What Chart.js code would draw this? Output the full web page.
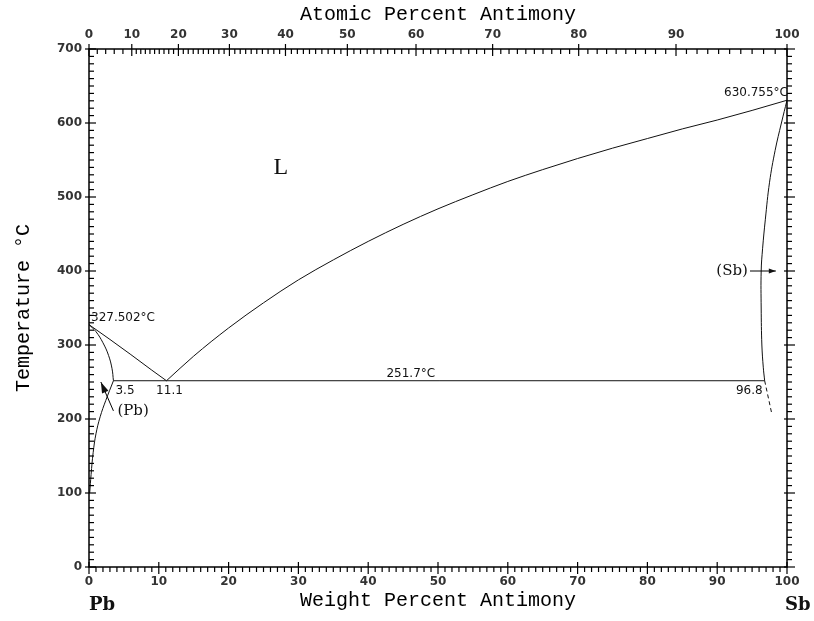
<!DOCTYPE html>
<html><head><meta charset="utf-8">
<script src="https://cdn.jsdelivr.net/npm/chart.js@4.4.0/dist/chart.umd.min.js"></script>
<style>html,body{margin:0;padding:0;background:#fff;}</style>
</head><body>
<canvas id="c" width="814" height="621"></canvas>
<script>
// ---- data (weight % Sb, temperature °C) ----
const LIQ_PB_X = [0, 3, 6, 9, 11.1];
const LIQ_PB_T = [327.502, 307.5, 287, 266, 251.7];
const LIQ_SB_X = [11.1, 15, 20, 25, 30, 35, 40, 45, 50, 55, 60, 65, 70, 75, 80, 85, 90, 95, 100];
const LIQ_SB_T = [251.7, 285, 323, 357, 388, 415, 440, 463, 484, 503, 521, 537, 552, 566, 579, 592, 604, 617, 630.755];
const PB_SOLIDUS_X = [0, 1, 2, 2.8, 3.3, 3.5];
const PB_SOLIDUS_T = [327.502, 318, 303, 286, 268, 251.7];
const PB_SOLVUS_X = [3.5, 2.4, 1.6, 1.0, 0.6, 0.3, 0.1];
const PB_SOLVUS_T = [251.7, 225, 203, 180, 155, 125, 100];
const SB_SOLIDUS_X = [100, 99.2, 98.3, 97.5, 96.9, 96.5, 96.3, 96.3, 96.4, 96.6, 96.8];
const SB_SOLIDUS_T = [630.755, 600, 563, 520, 470, 430, 400, 350, 300, 270, 251.7];
const SB_SOLVUS_DASH_X = [96.8, 97.8];
const SB_SOLVUS_DASH_T = [251.7, 208];
const EUTECTIC_X = [3.5, 96.8];
const EUTECTIC_T = [251.7, 251.7];
const Y_TICKS = [0, 100, 200, 300, 400, 500, 600, 700];
const X_TICKS = [0, 10, 20, 30, 40, 50, 60, 70, 80, 90, 100];
const AT_TICKS = [0, 10, 20, 30, 40, 50, 60, 70, 80, 90, 100];
const M_SB = 121.76, M_PB = 207.2;

const atToWt = a => 100 * a * M_SB / (a * M_SB + (100 - a) * M_PB);
const pts = (xs, ts) => xs.map((v, i) => ({x: v, y: ts[i]}));

const lineDs = (xs, ts, extra) => Object.assign({
  data: pts(xs, ts), showLine: true, pointRadius: 0, borderColor: '#111',
  borderWidth: 1, fill: false
}, extra || {});

const TICK_FONT = {family: 'DejaVu Sans', size: 12, weight: 'bold'};
const TITLE_FONT = {family: 'Liberation Mono', size: 20};

const decor = {
  id: 'decor',
  afterDraw(chart) {
    const {ctx, chartArea: {left, right, top, bottom}, scales: {x, y}} = chart;
    ctx.save();
    ctx.strokeStyle = '#000';
    const line = (x1, y1, x2, y2) => { ctx.beginPath(); ctx.moveTo(x1, y1); ctx.lineTo(x2, y2); ctx.stroke(); };
    ctx.lineWidth = 1.5;
    ctx.strokeRect(left, top, right - left, bottom - top);
    ctx.lineWidth = 1.2;
    for (let t = 0; t <= 700; t += 10) {
      const py = y.getPixelForValue(t);
      const major = t % 100 === 0;
      line(major ? left - 4 : left, py, left + (major ? 7 : 5), py);
      line(major ? right - 3 : right, py, right + (major ? 8 : 5), py);
    }
    for (let w = 0; w <= 100; w += 1) {
      const px = x.getPixelForValue(w);
      const major = w % 10 === 0;
      line(px, major ? bottom - 5 : bottom, px, bottom + (major ? 7 : 5));
    }
    for (let a = 0; a <= 100; a += 1) {
      if (a < 10 && a % 2 === 1) continue;
      const px = x.getPixelForValue(atToWt(a));
      const major = a % 10 === 0;
      line(px, major ? top - 5 : top, px, top + (major ? 7 : 5));
    }
    // annotations
    const X = v => x.getPixelForValue(v), Y = v => y.getPixelForValue(v);
    ctx.fillStyle = '#111';
    ctx.textBaseline = 'middle';
    ctx.font = '12px "DejaVu Sans"';
    ctx.textAlign = 'left';
    ctx.fillText('327.502°C', X(0) + 2, Y(327.502) - 7);
    ctx.textAlign = 'right';
    ctx.fillText('630.755°C', X(100) + 1, Y(630.755) - 7);
    ctx.textAlign = 'center';
    ctx.fillText('251.7°C', X(46.1), Y(251.7) - 7);
    ctx.textAlign = 'left';
    ctx.fillText('3.5', X(3.5) + 2, Y(251.7) + 10);
    ctx.textAlign = 'center';
    ctx.fillText('11.1', X(11.1) + 3, Y(251.7) + 10);
    ctx.textAlign = 'right';
    ctx.fillText('96.8', X(96.8) - 2, Y(251.7) + 10);
    ctx.font = '15px "DejaVu Serif"';
    ctx.textAlign = 'left';
    ctx.fillText('(Pb)', X(3.5) + 4, Y(211));
    ctx.textAlign = 'right';
    ctx.fillText('(Sb)', X(94.4), Y(400));
    ctx.font = '24px "Liberation Serif"';
    ctx.textAlign = 'center';
    ctx.fillText('L', X(27.5), Y(539));
    ctx.font = 'bold 18px "DejaVu Serif"';
    ctx.textAlign = 'left';
    ctx.fillText('Pb', X(0), 605);
    ctx.fillText('Sb', X(100) - 2, 605);
    // arrows
    const arrow = (x1, y1, x2, y2, len, hw) => {
      line(x1, y1, x2, y2);
      const ang = Math.atan2(y2 - y1, x2 - x1);
      ctx.beginPath();
      ctx.moveTo(x2, y2);
      ctx.lineTo(x2 - len * Math.cos(ang) + hw * Math.sin(ang), y2 - len * Math.sin(ang) - hw * Math.cos(ang));
      ctx.lineTo(x2 - len * Math.cos(ang) - hw * Math.sin(ang), y2 - len * Math.sin(ang) + hw * Math.cos(ang));
      ctx.closePath(); ctx.fill();
    };
    ctx.lineWidth = 1;
    arrow(X(94.7), Y(400), X(98.4), Y(400), 7, 2.5);
    arrow(X(3.5), Y(211), X(1.7), Y(250), 11, 3.5);
    ctx.restore();
  }
};

new Chart(document.getElementById('c'), {
  type: 'scatter',
  data: {
    datasets: [
      lineDs(LIQ_PB_X, LIQ_PB_T),
      lineDs(LIQ_SB_X, LIQ_SB_T, {cubicInterpolationMode: 'monotone'}),
      lineDs(PB_SOLIDUS_X, PB_SOLIDUS_T, {tension: 0.4}),
      lineDs(PB_SOLVUS_X, PB_SOLVUS_T, {tension: 0.4}),
      lineDs(SB_SOLIDUS_X, SB_SOLIDUS_T, {tension: 0.4}),
      lineDs(SB_SOLVUS_DASH_X, SB_SOLVUS_DASH_T, {borderDash: [4, 3]}),
      lineDs(EUTECTIC_X, EUTECTIC_T)
    ]
  },
  options: {
    responsive: false,
    animation: false,
    layout: {padding: {left: 0, right: 27, top: 0, bottom: 0}},
    plugins: {legend: {display: false}, tooltip: {enabled: false}},
    scales: {
      x: {
        type: 'linear', position: 'bottom', min: 0, max: 100,
        afterBuildTicks: s => { s.ticks = X_TICKS.map(v => ({value: v})); },
        afterFit: s => { s.height = 54; },
        grid: {drawOnChartArea: false, color: 'rgba(0,0,0,0)', tickLength: 7},
        border: {display: false},
        ticks: {font: TICK_FONT, color: '#333', padding: 1, maxRotation: 0, autoSkip: false},
        title: {display: true, text: 'Weight Percent Antimony', font: TITLE_FONT, color: '#000', padding: {top: 0, bottom: 8}}
      },
      xTop: {
        type: 'linear', position: 'top', min: 0, max: 100,
        afterBuildTicks: s => { s.ticks = AT_TICKS.map(a => ({value: atToWt(a)})); },
        afterFit: s => { s.height = 49; },
        grid: {drawOnChartArea: false, color: 'rgba(0,0,0,0)', tickLength: 5},
        border: {display: false},
        ticks: {font: TICK_FONT, color: '#333', padding: 2, maxRotation: 0, autoSkip: false,
          callback: (v, i) => String(AT_TICKS[i])},
        title: {display: true, text: 'Atomic Percent Antimony', font: TITLE_FONT, color: '#000', padding: {top: 3, bottom: 0}}
      },
      y: {
        type: 'linear', position: 'left', min: 0, max: 700,
        afterBuildTicks: s => { s.ticks = Y_TICKS.map(v => ({value: v})); },
        afterFit: s => { s.width = 89; },
        grid: {drawOnChartArea: false, color: 'rgba(0,0,0,0)', tickLength: 4},
        border: {display: false},
        ticks: {font: TICK_FONT, color: '#333', padding: 3, autoSkip: false},
        title: {display: true, text: 'Temperature °C', font: TITLE_FONT, color: '#000', padding: {top: 12, bottom: 0}}
      }
    }
  },
  plugins: [decor]
});
</script>
</body></html>
